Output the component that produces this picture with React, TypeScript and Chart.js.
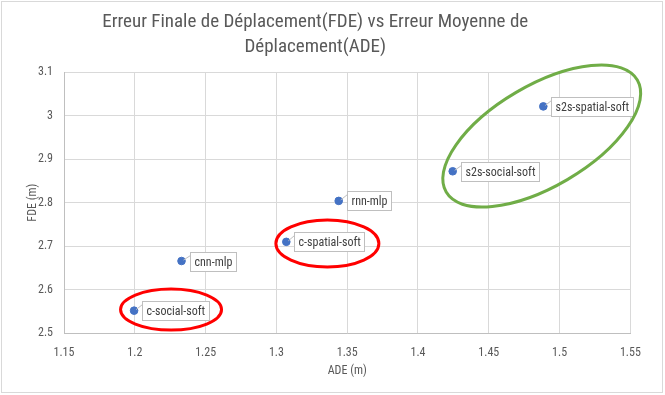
import React, { useEffect, useRef } from 'react';
import { Chart, registerables } from 'chart.js';

Chart.register(...registerables);

// ---- data ----
const modelNames = ['c-social-soft', 'cnn-mlp', 'c-spatial-soft', 'rnn-mlp', 's2s-social-soft', 's2s-spatial-soft'];
const adeValues = [1.1995, 1.233, 1.307, 1.344, 1.4245, 1.4885];
const fdeValues = [2.552, 2.666, 2.71, 2.804, 2.872, 3.021];
const titleLines = ['Erreur Finale de Déplacement(FDE) vs Erreur Moyenne de', 'Déplacement(ADE)'];
const xAxisTitle = 'ADE (m)';
const yAxisTitle = 'FDE (m)';

// highlight ellipses (center in data units)
const highlightCentersX = [1.2256, 1.336, 1.4874];
const highlightCentersY = [2.5546, 2.706, 2.953];

const FONT = "'Liberation Sans Narrow', 'Roboto Condensed', Roboto, sans-serif";
const GRAY = '#595959';

const ellipseStyles = [
  { rx: 50.5, ry: 20.5, rot: 0, color: '#ff0000' },
  { rx: 51.5, ry: 23.5, rot: 0, color: '#ff0000' },
  { rx: 110.8, ry: 50.6, rot: (-30.4 * Math.PI) / 180, color: '#70ad47' },
];

const fmt = (v: number) => String(Number(Number(v).toFixed(2)));

export default function App() {
  const ref = useRef<HTMLCanvasElement | null>(null);
  useEffect(() => {
    if (!ref.current) return;
    const bgPlugin = {
      id: 'bg',
      beforeDraw(chart: any) {
        const c = chart.ctx;
        c.save();
        c.fillStyle = '#ffffff';
        c.fillRect(0, 0, chart.width, chart.height);
        c.restore();
      },
      afterDraw(chart: any) {
        const c = chart.ctx;
        c.save();
        c.strokeStyle = '#d9d9d9';
        c.lineWidth = 1;
        c.strokeRect(1.5, 1.5, 661, 391);
        c.restore();
      },
    };
    const labelPlugin = {
      id: 'labels',
      afterDatasetsDraw(chart: any) {
        const c = chart.ctx;
        const meta = chart.getDatasetMeta(0);
        c.save();
        c.font = `12px ${FONT}`;
        c.lineWidth = 1;
        meta.data.forEach((pt: any, i: number) => {
          const text = modelNames[i];
          const w = Math.round(c.measureText(text).width + 8);
          const h = 19;
          const bx = Math.round(pt.x + 8) + 0.5;
          const by = Math.round(pt.y - h / 2) + 0.5;
          c.strokeStyle = '#bfbfbf';
          c.beginPath();
          c.moveTo(pt.x + 2, pt.y - 1);
          c.lineTo(bx, by + 3);
          c.stroke();
          c.fillStyle = '#ffffff';
          c.fillRect(bx, by, w, h);
          c.strokeRect(bx, by, w, h);
          c.fillStyle = '#404040';
          c.textBaseline = 'middle';
          c.textAlign = 'left';
          c.fillText(text, bx + 4, by + h / 2 + 0.5);
        });
        // ellipses
        const xs = chart.scales.x;
        const ys = chart.scales.y;
        ellipseStyles.forEach((e, i) => {
          const cx = xs.getPixelForValue(highlightCentersX[i]);
          const cy = ys.getPixelForValue(highlightCentersY[i]);
          c.strokeStyle = e.color;
          c.lineWidth = 3;
          c.beginPath();
          c.ellipse(cx, cy, e.rx, e.ry, e.rot, 0, Math.PI * 2);
          c.stroke();
        });
        c.restore();
      },
    };
    const chart = new Chart(ref.current, {
      type: 'scatter',
      data: {
        datasets: [
          {
            label: 'models',
            data: adeValues.map((x, i) => ({ x, y: fdeValues[i] })),
            backgroundColor: '#4472c4',
            borderColor: '#4472c4',
            pointRadius: 3.8,
            pointHoverRadius: 3.8,
          },
        ],
      },
      options: {
        responsive: false,
        animation: false,
        devicePixelRatio: 1,
        layout: { padding: { left: 0, right: 34.6, top: 0, bottom: 0 } },
        plugins: {
          legend: { display: false },
          tooltip: { enabled: false },
          title: {
            display: true,
            text: titleLines,
            color: GRAY,
            font: { family: FONT, size: 19, weight: 'normal', lineHeight: 25 / 19 },
            padding: { top: 9.5, bottom: 12.5 },
          },
        },
        scales: {
          x: {
            type: 'linear',
            min: 1.15,
            max: 1.55,
            afterFit(scale: any) {
              scale.height = 61.7;
            },
            ticks: {
              stepSize: 0.05,
              color: GRAY,
              font: { family: FONT, size: 12 },
              padding: 12,
              callback: (v: any) => fmt(v),
            },
            grid: { color: '#d9d9d9', drawTicks: false },
            border: { color: '#bfbfbf' },
            title: {
              display: true,
              text: xAxisTitle,
              color: GRAY,
              font: { family: FONT, size: 12 },
              padding: { top: 0, bottom: 17 },
            },
          },
          y: {
            type: 'linear',
            min: 2.5,
            max: 3.1,
            afterFit(scale: any) {
              scale.width = 64;
            },
            ticks: {
              stepSize: 0.1,
              color: GRAY,
              font: { family: FONT, size: 12 },
              padding: 11,
              callback: (v: any) => fmt(v),
            },
            grid: { color: '#d9d9d9', drawTicks: false },
            border: { color: '#bfbfbf' },
            title: {
              display: true,
              text: yAxisTitle,
              color: GRAY,
              font: { family: FONT, size: 12 },
              padding: { top: 26, bottom: 0 },
            },
          },
        },
      },
      plugins: [bgPlugin, labelPlugin],
    } as any);
    return () => chart.destroy();
  }, []);
  return (
    <div style={{ position: 'absolute', left: 0, top: 0, width: 665, height: 395 }}>
      <canvas ref={ref} width={665} height={395} />
    </div>
  );
}
